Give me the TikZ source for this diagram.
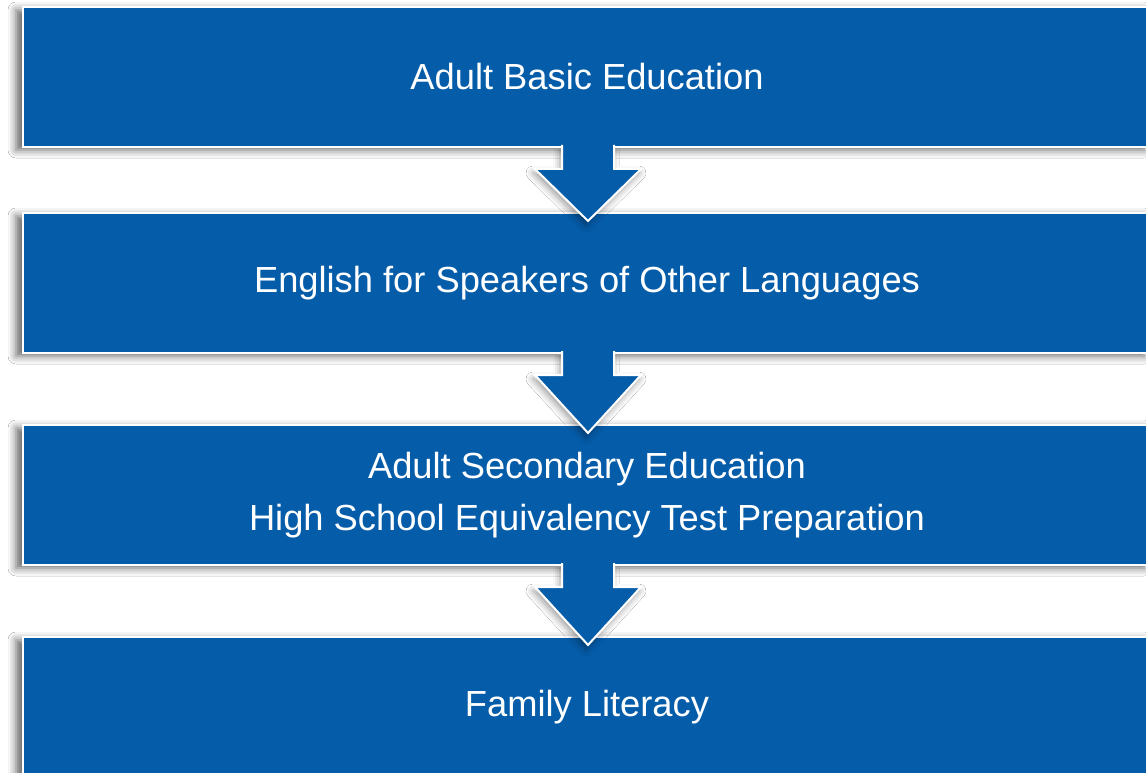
\documentclass[tikz,border=0pt]{standalone}
\usepackage{fontspec}
\setmainfont{Liberation Sans}
\usetikzlibrary{shadows.blur,calc}
\definecolor{boxblue}{HTML}{055CA9}
\tikzset{
  stage/.style={fill=boxblue, draw=white, line width=2pt, minimum width=1128pt, minimum height=140pt,
    inner sep=0pt, text=white, font=\fontsize{36.3}{52}\selectfont, align=center,
    blur shadow={shadow xshift=-7pt, shadow yshift=-3pt, shadow blur radius=8pt, shadow opacity=60}},
  arrowshape/.style={fill=boxblue, draw=white, line width=2pt, line join=miter,
    blur shadow={shadow xshift=-2pt, shadow yshift=-4pt, shadow blur radius=7pt, shadow opacity=40}}
}
\newcommand\flowarrow[2]{%
  \filldraw[arrowshape] ($(#1.south)+(-25,-3)$) -- ($(#1.south)+(-25,21)$) -- ($(#1.south)+(-52,21)$)
    -- ($(#2.north)+(1,9)$) -- ($(#1.south)+(54,21)$) -- ($(#1.south)+(27,21)$) -- ($(#1.south)+(27,-3)$);}
\begin{document}
\begin{tikzpicture}[x=1pt,y=-1pt]
\useasboundingbox (0,0) rectangle (1146,773);
\fill[white] (0,0) rectangle (1146,773);
\node[stage] (b1) at (587,77) {Adult Basic Education};
\node[stage] (b2) at (587,283) {English for Speakers of Other Languages};
\node[stage] (b3) at (587,495) {\raisebox{-3pt}{\parbox{1000pt}{\centering Adult Secondary Education\\High School Equivalency Test Preparation}}};
\node[stage] (b4) at (587,707) {Family Literacy};
\flowarrow{b1}{b2}
\flowarrow{b2}{b3}
\flowarrow{b3}{b4}
\end{tikzpicture}
\end{document}
